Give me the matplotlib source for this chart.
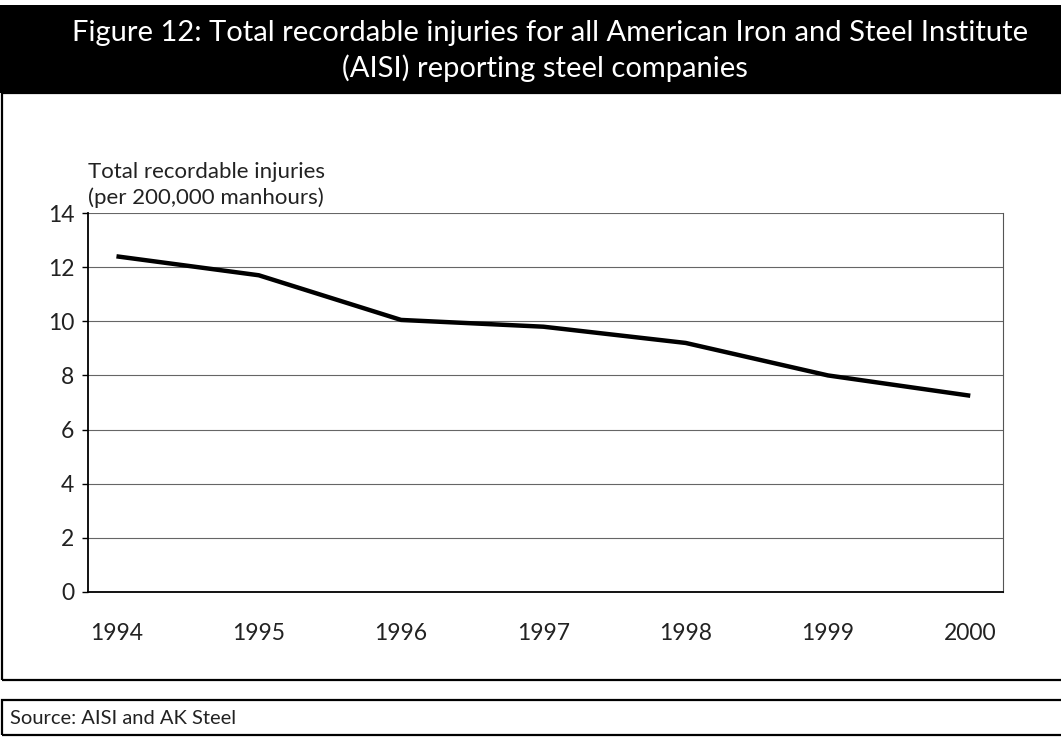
import matplotlib.pyplot as plt
from matplotlib.patches import Rectangle

plt.rcParams['font.family'] = ['Lato', 'DejaVu Sans']

# Dati
years = [1994, 1995, 1996, 1997, 1998, 1999, 2000]
injuries = [12.4, 11.7, 10.05, 9.8, 9.2, 8.0, 7.25]
y_ticks = [0, 2, 4, 6, 8, 10, 12, 14]

W, H = 1061, 740
fig = plt.figure(figsize=(W / 100, H / 100), dpi=100)

def px(x0, y0, x1, y1):
    # rettangolo in pixel (origine in alto a sinistra) -> coordinate figura
    return [x0 / W, 1 - y1 / H, (x1 - x0) / W, (y1 - y0) / H]

# Intestazione nera
fig.patches.append(Rectangle((0, 1 - 93 / H), 1, 88 / H, transform=fig.transFigure,
                             facecolor='black', edgecolor='none'))
fig.text(550 / W, 1 - 33 / H, "Figure 12: Total recordable injuries for all American Iron and Steel Institute",
         color='white', fontsize=21, ha='center', va='center')
fig.text(545 / W, 1 - 68 / H, "(AISI) reporting steel companies",
         color='white', fontsize=21, ha='center', va='center')

# Cornici
fig.patches.append(Rectangle((2 / W, 1 - 680 / H), 1.0, 587 / H, transform=fig.transFigure,
                             facecolor='none', edgecolor='black', lw=1.6))
fig.patches.append(Rectangle((2 / W, 1 - 735 / H), 1.0, 35 / H, transform=fig.transFigure,
                             facecolor='none', edgecolor='black', lw=1.6))
fig.text(10 / W, 1 - 718 / H, "Source: AISI and AK Steel", fontsize=14.5, va='center', color='#222222')

# Grafico
ax = fig.add_axes(px(88, 213, 1003, 592))
ax.plot(years, injuries, color='black', lw=3.2, solid_capstyle='butt')
ax.set_xlim(1993.8, 2000.23)
ax.set_ylim(0, 14)
ax.set_yticks(y_ticks)
ax.set_xticks(years)
ax.grid(axis='y', color='#666666', lw=0.8)
ax.set_axisbelow(True)
ax.tick_params(axis='y', length=4, width=1, pad=6, labelsize=16.5, labelcolor='#222222')
ax.tick_params(axis='x', length=0, pad=22, labelsize=16.5, labelcolor='#222222')
for s in ['left', 'bottom']:
    ax.spines[s].set_linewidth(1.3)
ax.spines['top'].set_visible(False)
ax.spines['right'].set_color('#555555')
ax.spines['right'].set_linewidth(0.8)

fig.text(88 / W, 1 - 172 / H, "Total recordable injuries", fontsize=16, va='center', color='#222222')
fig.text(88 / W, 1 - 198 / H, "(per 200,000 manhours)", fontsize=16, va='center', color='#222222')

fig.savefig('out.png', dpi=100)
